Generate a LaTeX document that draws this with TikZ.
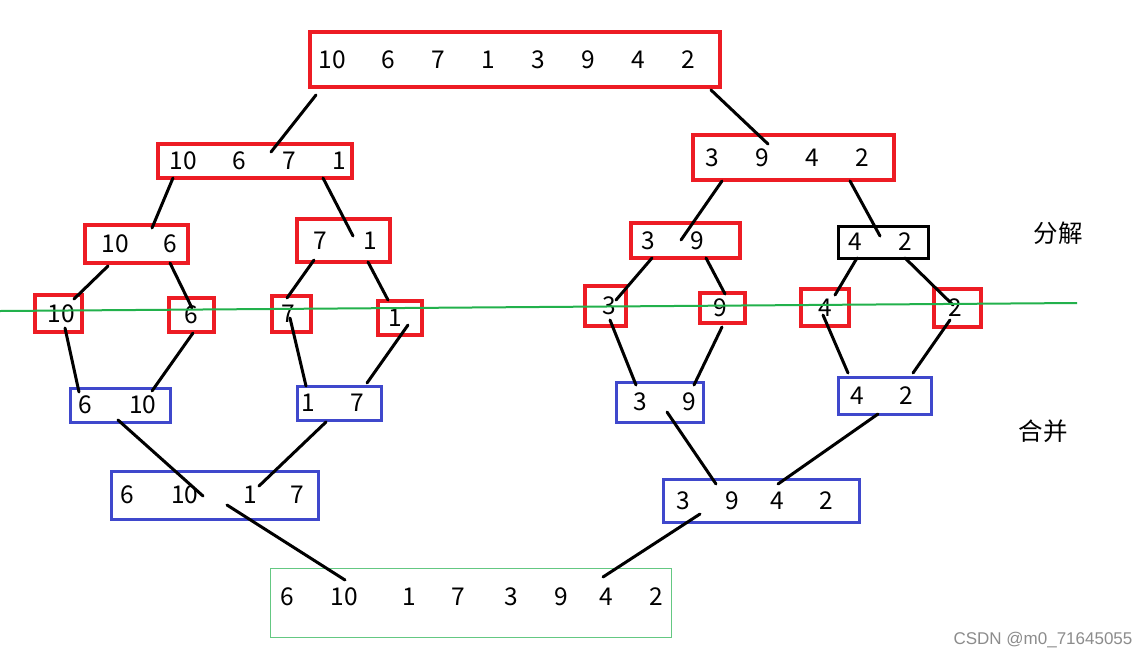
\documentclass[tikz,border=0pt]{standalone}
\usepackage{fontspec}
\setmainfont{Noto Sans CJK SC}
\newfontfamily\markfont{Liberation Sans}
\usetikzlibrary{calc}
\definecolor{paintred}{RGB}{237,28,36}
\definecolor{paintblue}{RGB}{63,72,204}
\definecolor{paintgreen}{RGB}{34,177,76}
\newcommand{\cell}[2][50pt]{\makebox[#1]{#2}}
\newcommand{\row}[2]{\kern#1\kern-30pt#2\kern-30pt\kern-#1\relax}

\begin{document}
\begin{tikzpicture}[x=1pt,y=-1pt,
  box/.style={draw, line width=3.5pt, inner sep=0pt, font=\fontsize{24.5}{28}\selectfont},
  redbox/.style={box, draw=paintred},
  bluebox/.style={box, draw=paintblue, line width=3pt},
  blackbox/.style={box, draw=black, line width=3pt},
  link/.style={line width=3pt, line cap=round}]
\fill[white] (0,0) rectangle (1147,659);
\useasboundingbox (0,0) rectangle (1147,659);

% split
\node[redbox, minimum width=410pt, minimum height=55pt] (top) at (515,59.5) {\row{-8pt}{\cell[62pt]{10}\cell{6}\cell{7}\cell{1}\cell{3}\cell{9}\cell{4}\cell{2}}};
\node[redbox, minimum width=194pt, minimum height=34pt] (L) at (255,161) {\row{3pt}{\cell[62pt]{10}\cell{6}\cell{7}\cell{1}}};
\node[redbox, minimum width=201pt, minimum height=45pt] (R) at (793.5,157.5) {\row{-6.5pt}{\cell{3}\cell{9}\cell{4}\cell{2}}};
\node[redbox, minimum width=103pt, minimum height=38pt] (LL) at (136.5,244) {\row{6pt}{\cell[55pt]{10}\cell[55pt]{6}}};
\node[redbox, minimum width=93pt, minimum height=43pt] (LR) at (343.5,240.5) {\row{1.5pt}{\cell{7}\cell{1}}};
\node[redbox, minimum width=109pt, minimum height=35pt] (RL) at (685.5,240.5) {\row{-13pt}{\cell[49pt]{3}\cell[49pt]{9}}};
\node[blackbox, minimum width=90pt, minimum height=32pt] (RR) at (883,242) {\row{-3pt}{\cell{4}\cell{2}}};

\node[redbox, minimum width=47pt, minimum height=37pt] (s10) at (58.5,313.5) {\row{2.5pt}{10}};
\node[redbox, minimum width=45pt, minimum height=34pt] (s6) at (191.5,315) {6};
\node[redbox, minimum width=39pt, minimum height=36pt] (s7) at (291.5,314) {\row{-3.5pt}{7}};
\node[redbox, minimum width=44pt, minimum height=34pt] (s1) at (400,318) {\row{-5pt}{1}};
\node[redbox, minimum width=41pt, minimum height=40pt] (s3) at (605.5,306) {\row{3.5pt}{3}};
\node[redbox, minimum width=45pt, minimum height=30pt] (s9) at (722.5,308) {\row{-2.5pt}{9}};
\node[redbox, minimum width=48pt, minimum height=37pt] (s4) at (825,307.5) {4};
\node[redbox, minimum width=47pt, minimum height=38pt] (s2) at (957.5,308) {\row{-2.5pt}{2}};

% merge
\node[bluebox, minimum width=100pt, minimum height=34pt] (m610) at (120,405) {\row{-6pt}{\cell[58pt]{6}\cell[58pt]{10}}};
\node[bluebox, minimum width=84pt, minimum height=34pt] (m17) at (339,403) {\row{-6.5pt}{\cell[49pt]{1}\cell[49pt]{7}}};
\node[bluebox, minimum width=87pt, minimum height=40pt] (m39) at (659.5,402) {\row{5pt}{\cell[49pt]{3}\cell[49pt]{9}}};
\node[bluebox, minimum width=93pt, minimum height=37pt] (m42) at (884.5,395.5) {\row{-3pt}{\cell[49pt]{4}\cell[49pt]{2}}};
\node[bluebox, minimum width=207pt, minimum height=48pt] (mL) at (214.5,495) {\row{-7.5pt}{\cell{6}\cell[66pt]{10}\cell[64pt]{1}\cell[30pt]{7}}};
\node[bluebox, minimum width=196pt, minimum height=43pt] (mR) at (761,500.5) {\row{-5pt}{\cell{3}\cell[48pt]{9}\cell[42pt]{4}\cell[56pt]{2}}};
\node[box, draw=paintgreen!70, line width=1pt, minimum width=401pt, minimum height=69pt, text depth=11pt] (res) at (470.5,602.5)
  {\row{-2.5pt}{\cell{6}\cell[64pt]{10}\cell[66pt]{1}\cell[32pt]{7}\cell[74pt]{3}\cell[26pt]{9}\cell[64pt]{4}\cell[36pt]{2}}};

\node[font=\fontsize{24.5}{28}\selectfont] (split) at (1058,233) {分解};
\node[font=\fontsize{24.5}{28}\selectfont] (merge) at (1043,431) {合并};
\node[font=\markfont\fontsize{17}{20}\selectfont, text=black!45] (mark) at (1043,640) {CSDN @m0\_71645055};

% links
\draw[link] ($(top)+(-199,35.5)$) -- ($(L)+(16,-9)$);
\draw[link] ($(top)+(196,30.5)$) -- ($(R)+(-25.5,-13.5)$);
\draw[link] ($(L)+(-82,17)$) -- ($(LL)+(15.5,-16)$);
\draw[link] ($(L)+(68,17)$) -- ($(LR)+(9.5,-4.5)$);
\draw[link] ($(R)+(-71.5,23.5)$) -- ($(RL)+(-4.5,-0.5)$);
\draw[link] ($(R)+(56.5,23.5)$) -- ($(RR)+(-3,-6)$);
\draw[link] ($(LL)+(-28.5,22)$) -- ($(s10)+(15.5,-14.5)$);
\draw[link] ($(LL)+(33.5,19)$) -- ($(s6)+(0.5,-7)$);
\draw[link] ($(LR)+(-29.5,19.5)$) -- ($(s7)+(-4.5,-16)$);
\draw[link] ($(LR)+(24.5,21.5)$) -- ($(s1)+(-12,-18)$);
\draw[link] ($(RL)+(-33.5,17.5)$) -- ($(s3)+(10.5,-6)$);
\draw[link] ($(RL)+(20.5,17.5)$) -- ($(s9)+(2.5,-14)$);
\draw[link] ($(RR)+(-26,16)$) -- ($(s4)+(10,-12.5)$);
\draw[link] ($(RR)+(22,16)$) -- ($(s2)+(-4.5,-3)$);
\draw[link] ($(s10)+(6.5,14.5)$) -- ($(m610)+(-41,-13)$);
\draw[link] ($(s6)+(1.5,18)$) -- ($(m610)+(32,-14)$);
\draw[link] ($(s7)+(-1.5,4)$) -- ($(m17)+(-33,-17)$);
\draw[link] ($(s1)+(8,7)$) -- ($(m17)+(28,-20)$);
\draw[link] ($(s3)+(4.5,14)$) -- ($(m39)+(-23.5,-17)$);
\draw[link] ($(s9)+(-0.5,19)$) -- ($(m39)+(34.5,-17)$);
\draw[link] ($(s4)+(-2,7.5)$) -- ($(m42)+(-36.5,-22.5)$);
\draw[link] ($(s2)+(-7.5,12)$) -- ($(m42)+(28.5,-22.5)$);
\draw[link] ($(m610)+(-2,15)$) -- ($(mL)+(-11.5,1)$);
\draw[link] ($(m17)+(-13,19)$) -- ($(mL)+(44.5,-9)$);
\draw[link] ($(m39)+(7.5,10)$) -- ($(mR)+(-45,-16.5)$);
\draw[link] ($(m42)+(-6.5,18.5)$) -- ($(mR)+(17,-16.5)$);
\draw[link] ($(mL)+(12.5,10)$) -- ($(res)+(-125.5,-22.5)$);
\draw[link] ($(mR)+(-61,13.5)$) -- ($(res)+(132.5,-25.5)$);

% dividing line
\draw[paintgreen, line width=2pt] (0,311) -- (1077,303);
\end{tikzpicture}
\end{document}
